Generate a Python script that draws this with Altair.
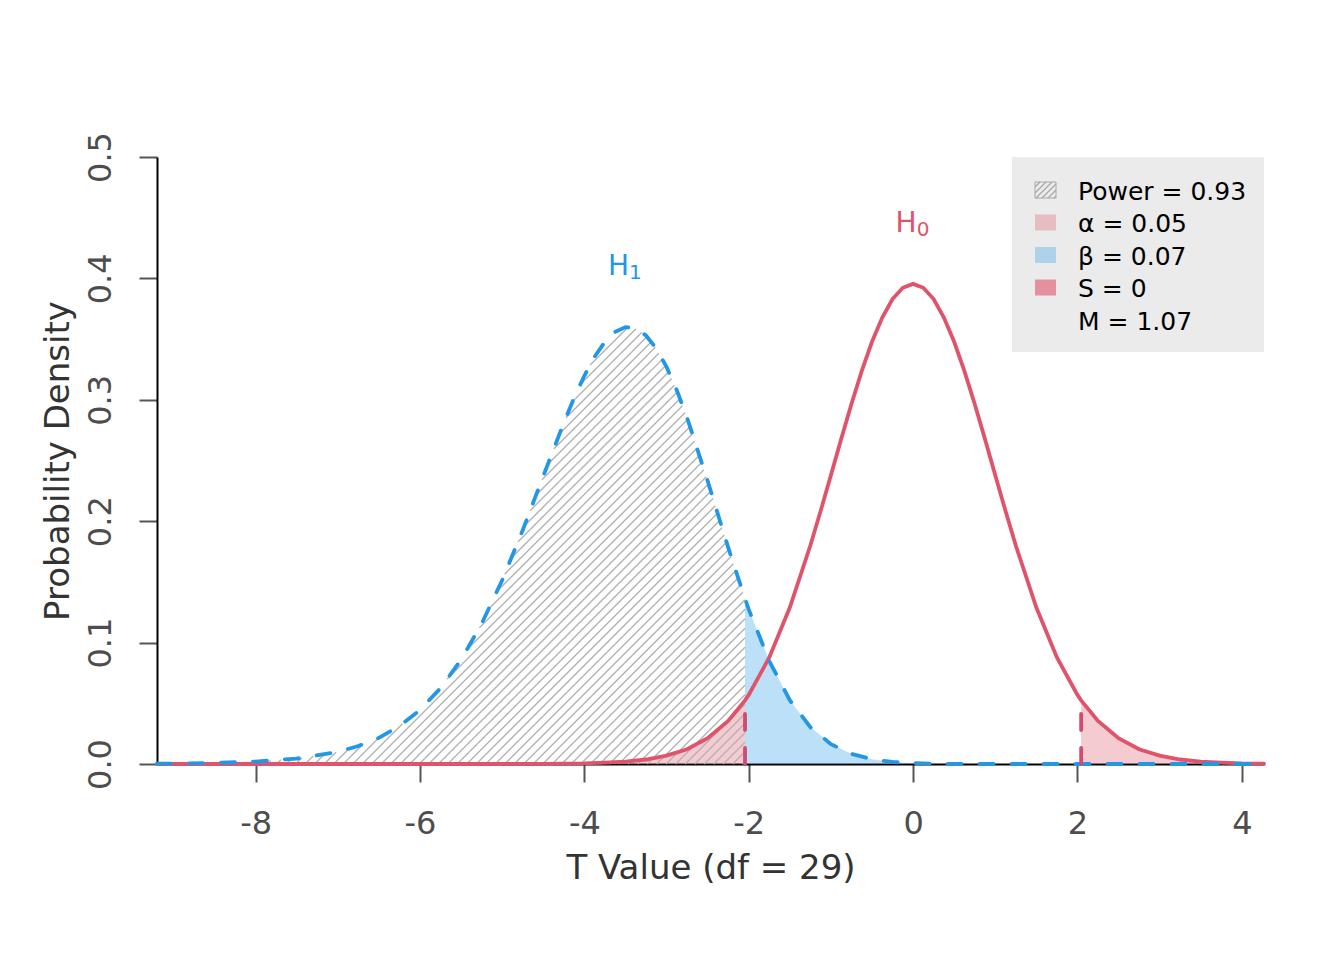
import numpy as np
import pandas as pd
import altair as alt

# ---------------- values ----------------
crit_t = 2.045  # critical t value (two-sided, df = 29)

# H0: central t density (df = 29)
t_h0 = [-9.2, -5.5, -5.0, -4.75, -4.5, -4.25, -4.0, -3.75, -3.5, -3.25,
        -3.0, -2.75, -2.5, -2.25, -2.045, -2.0, -1.75, -1.5, -1.25, -1.125,
        -1.0, -0.875, -0.75, -0.625, -0.5, -0.375, -0.25, -0.125, 0.0, 0.125,
        0.25, 0.375, 0.5, 0.625, 0.75, 0.875, 1.0, 1.125, 1.25, 1.5,
        1.75, 2.0, 2.045, 2.25, 2.5, 2.75, 3.0, 3.25, 3.5, 3.75,
        4.0, 4.27]
dens_h0 = [0.0, 0.0, 0.0, 0.0001, 0.0001, 0.0003, 0.0005, 0.0011, 0.0020, 0.0037,
           0.0069, 0.0122, 0.0212, 0.0354, 0.0524, 0.0569, 0.0877, 0.1289, 0.1800, 0.2084,
           0.2379, 0.2676, 0.2965, 0.3236, 0.3478, 0.3678, 0.3830, 0.3923, 0.3955, 0.3923,
           0.3830, 0.3678, 0.3478, 0.3236, 0.2965, 0.2676, 0.2379, 0.2084, 0.1800, 0.1289,
           0.0877, 0.0569, 0.0524, 0.0354, 0.0212, 0.0122, 0.0069, 0.0037, 0.0020, 0.0011,
           0.0005, 0.0003]

# H1: shifted (non-central) t density
t_h1 = [-9.2, -9.0, -8.5, -8.0, -7.5, -7.0, -6.75, -6.5, -6.25, -6.0,
        -5.75, -5.5, -5.25, -5.0, -4.75, -4.5, -4.25, -4.125, -4.0, -3.875,
        -3.75, -3.625, -3.5, -3.375, -3.25, -3.125, -3.0, -2.875, -2.75, -2.5,
        -2.25, -2.045, -2.0, -1.75, -1.5, -1.25, -1.0, -0.75, -0.5, -0.25,
        0.0, 0.25, 0.5, 1.0, 4.27]
dens_h1 = [0.0003, 0.0004, 0.0009, 0.0020, 0.0045, 0.0100, 0.0148, 0.0216, 0.0312, 0.0445,
           0.0625, 0.0859, 0.1155, 0.1514, 0.1926, 0.2371, 0.2811, 0.3015, 0.3198, 0.3355,
           0.3477, 0.3560, 0.3599, 0.3589, 0.3530, 0.3423, 0.3271, 0.3078, 0.2852, 0.2332,
           0.1784, 0.1361, 0.1274, 0.0849, 0.0526, 0.0304, 0.0164, 0.0083, 0.0039, 0.0017,
           0.0007, 0.0003, 0.0001, 0.0, 0.0]

x_ticks = [-8, -6, -4, -2, 0, 2, 4]
y_ticks = [0.0, 0.1, 0.2, 0.3, 0.4, 0.5]
legend_labels = ["Power = 0.93", "α = 0.05", "β = 0.07", "S = 0", "M = 1.07"]
curve_letters = ["H", "H"]
curve_subscripts = ["1", "0"]
x_title = "T Value (df = 29)"
y_title = "Probability Density"

assert len(t_h0) == len(dens_h0) and len(t_h1) == len(dens_h1)

# ---------------- styling / layout ----------------
RED = "#DF536B"
BLUE = "#2297E6"
FONT = "DejaVu Sans"
W, H = 1107, 607
X_DOM = [-9.2, 4.27]
Y_DOM = [0.0, 0.5]

xs = alt.Scale(domain=X_DOM, nice=False, zero=False)
ys = alt.Scale(domain=Y_DOM, nice=False, zero=True)

h0 = pd.DataFrame({"t": t_h0, "d": dens_h0})
h1 = pd.DataFrame({"t": t_h1, "d": dens_h1})
eps = 1e-9
h0_left = h0[h0.t <= -crit_t + eps]
h0_right = h0[h0.t >= crit_t - eps]
h1_left = h1[h1.t <= -crit_t + eps]
h1_right = h1[h1.t >= -crit_t - eps]
crit_df = h0[np.isclose(np.abs(h0.t), crit_t)].assign(z=0.0)

# ---------------- hatch lines (clipped to area under H1, t <= -crit) ----------------
px_x = W / (X_DOM[1] - X_DOM[0])
px_y = H / (Y_DOM[1] - Y_DOM[0])
slope = px_x / px_y          # 45 degrees on screen
spacing = 9.5 / px_x         # ~9.5 px apart horizontally
fine = np.linspace(X_DOM[0], -crit_t, 6000)
f_fine = np.interp(fine, h1_left.t.values, h1_left.d.values)
rows = []
x0 = -crit_t - spacing * 0.3
lowest = X_DOM[0] - max(dens_h1) / slope
while x0 > lowest:
    yl = slope * (fine - x0)
    inside = (yl >= 0) & (yl <= f_fine)
    if inside.any():
        idx = np.flatnonzero(inside)
        brk = np.flatnonzero(np.diff(idx) > 1)
        starts = np.r_[idx[0], idx[brk + 1]]
        ends = np.r_[idx[brk], idx[-1]]
        for s, e in zip(starts, ends):
            if e > s:
                rows.append(dict(x=fine[s], y=yl[s], x2=fine[e], y2=yl[e]))
    x0 -= spacing
hatch = pd.DataFrame(rows)

# ---------------- axes (same object on every data layer so they merge) ----------------
x_axis = alt.Axis(
    values=x_ticks, title=x_title, grid=False,
    tickSize=18, tickWidth=2, tickColor="#555555",
    domainColor="black", domainWidth=2,
    labelFont=FONT, labelFontSize=32, labelColor="#4D4D4D",
    labelPadding=51, labelBaseline="alphabetic", labelFlush=False, labelOverlap=False,
    labelExpr="datum.value < 0 ? '-' + format(-datum.value, 'd') : format(datum.value, 'd')",
    titleFont=FONT, titleFontSize=34, titleFontWeight="normal", titleColor="#333333",
    titleBaseline="alphabetic", titleAlign="center", titleX=W / 2, titleY=114,
)
y_axis = alt.Axis(
    values=y_ticks, format=".1f", title=y_title, grid=False,
    tickSize=18, tickWidth=2, tickColor="#555555",
    domainColor="black", domainWidth=2,
    labelFont=FONT, labelFontSize=32, labelColor="#4D4D4D",
    labelAngle=270, labelAlign="center", labelBaseline="alphabetic",
    labelPadding=29, labelFlush=False, labelOverlap=False,
    titleFont=FONT, titleFontSize=34, titleFontWeight="normal", titleColor="#333333",
    titleAngle=270, titleBaseline="alphabetic", titleAlign="center",
    titleX=-89, titleY=H / 2,
)


def XE(field):
    return alt.X(field, type="quantitative", scale=xs, axis=x_axis, title=x_title)


def YE(field):
    return alt.Y(field, type="quantitative", scale=ys, axis=y_axis, title=y_title)


def area(df, color, op):
    return alt.Chart(df).mark_area(color=color, opacity=op, interpolate="linear").encode(
        x=XE("t"), y=YE("d"),
    )


layers = []
layers.append(area(h0_left, RED, 0.3))
layers.append(
    alt.Chart(hatch).mark_rule(color="#B3B3B3", strokeWidth=1.4).encode(
        x=XE("x"), y=YE("y"), x2="x2:Q", y2="y2:Q",
    )
)
layers.append(area(h1_right, BLUE, 0.3))
layers.append(area(h0_right, RED, 0.3))

# H0 curve
layers.append(
    alt.Chart(h0).mark_line(color=RED, strokeWidth=3.8, strokeCap="round").encode(
        x=XE("t"), y=YE("d"),
    )
)
# H1 curve dashed
layers.append(
    alt.Chart(h1).mark_line(color=BLUE, strokeWidth=3.8, strokeDash=[14, 18],
                            strokeCap="round").encode(
        x=XE("t"), y=YE("d"),
    )
)
# critical value dashed segments
layers.append(
    alt.Chart(crit_df).mark_rule(color="#D24A6C", strokeWidth=3.8, strokeDash=[16, 18],
                                 strokeCap="round").encode(
        x=XE("t"), y=YE("z"), y2="d:Q",
    )
)

# curve labels, placed above each curve's peak
i1 = int(np.argmax(dens_h1))
i0 = int(np.argmax(dens_h0))
lab_df = pd.DataFrame({
    "t": [t_h1[i1], t_h0[i0]],
    "d": [dens_h1[i1] + 0.043, dens_h0[i0] + 0.043],
    "letter": curve_letters,
    "sub": curve_subscripts,
    "col": [BLUE, RED],
})
layers.append(
    alt.Chart(lab_df).mark_text(font=FONT, fontSize=28, align="center",
                                baseline="alphabetic", dx=-7).encode(
        x=XE("t"), y=YE("d"),
        text="letter:N",
        color=alt.Color("col:N", scale=None),
    )
)
layers.append(
    alt.Chart(lab_df).mark_text(font=FONT, fontSize=20, align="center",
                                baseline="alphabetic", dx=10, dy=4).encode(
        x=XE("t"), y=YE("d"),
        text="sub:N",
        color=alt.Color("col:N", scale=None),
    )
)

# ---------------- legend (drawn in pixel space) ----------------
dummy = pd.DataFrame({"k": [0]})
LX0, LX1, LY0, LY1 = 855, W, 0, 195
layers.append(
    alt.Chart(dummy).mark_rect(color="#EBEBEB").encode(
        x=alt.value(LX0), x2=alt.value(LX1), y=alt.value(LY0), y2=alt.value(LY1)
    )
)
row_y0, row_dy = 33.0, 32.5
sw_x0, sw_x1, sw_h = 878, 899, 16
swatch_styles = [None, (RED, 0.3), (BLUE, 0.3), (RED, 0.6), "none"]
for i, lab in enumerate(legend_labels):
    cy = row_y0 + i * row_dy
    st = swatch_styles[i]
    if st is None:
        bx0, bx1, by0, by1 = sw_x0, sw_x1, cy - sw_h / 2, cy + sw_h / 2
        layers.append(
            alt.Chart(dummy).mark_rect(fill="#EBEBEB", stroke="#A8A8A8", strokeWidth=1).encode(
                x=alt.value(bx0), x2=alt.value(bx1), y=alt.value(by0), y2=alt.value(by1)
            )
        )
        c = bx0 + by0 + 5
        while c < bx1 + by1:
            xa = max(bx0, c - by1)
            xb = min(bx1, c - by0)
            if xb > xa:
                layers.append(
                    alt.Chart(dummy).mark_rule(color="#A8A8A8", strokeWidth=1.2).encode(
                        x=alt.value(xa), x2=alt.value(xb),
                        y=alt.value(c - xa), y2=alt.value(c - xb)
                    )
                )
            c += 6
    elif st != "none":
        layers.append(
            alt.Chart(dummy).mark_rect(color=st[0], opacity=st[1]).encode(
                x=alt.value(sw_x0), x2=alt.value(sw_x1),
                y=alt.value(cy - sw_h / 2), y2=alt.value(cy + sw_h / 2)
            )
        )
    layers.append(
        alt.Chart(pd.DataFrame({"label": [lab]})).mark_text(
            font=FONT, fontSize=25, align="left", baseline="middle", color="black"
        ).encode(x=alt.value(921), y=alt.value(cy + 1.5), text="label:N")
    )

chart = alt.layer(*layers).properties(
    width=W, height=H,
    autosize=alt.AutoSizeParams(type="none"),
    padding={"left": 149, "top": 149, "right": 72, "bottom": 188},
    background="white",
).configure_view(stroke=None)

chart.save("out.html", embed_options={"renderer": "svg", "actions": False})
